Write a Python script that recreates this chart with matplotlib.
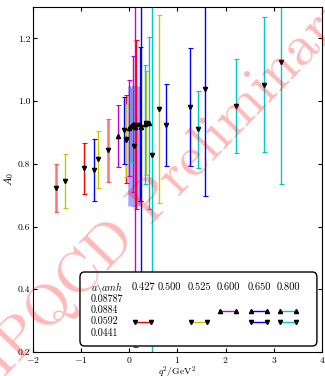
import matplotlib.pyplot as plt
from matplotlib.lines import Line2D
from matplotlib.patches import FancyBboxPatch

plt.rcParams['font.family'] = 'serif'
plt.rcParams['font.serif'] = ['cmr10', 'DejaVu Serif']
plt.rcParams['mathtext.fontset'] = 'cm'
plt.rcParams['axes.formatter.use_mathtext'] = True

# form factor A0 vs q^2, lattice spacing a=0.0592 (down triangles)
red_q2 = [-0.936, -0.07, 0.143]
red_A0 = [0.786, 0.88, 0.925]
red_err = [0.081, 0.14, 0.27]

yellow_q2 = [-1.33, -0.645, -0.077, 0.35, 0.614]
yellow_A0 = [0.746, 0.814, 0.875, 0.929, 0.976]
yellow_err = [0.086, 0.092, 0.117, 0.166, 0.30]

blue_dn_q2 = [-0.728, -0.106, 0.759, 1.264, 1.568]
blue_dn_A0 = [0.78, 0.907, 0.923, 0.981, 1.040]
blue_dn_err = [0.1, 0.107, 0.13, 0.188, 0.342]

cyan_dn_q2 = [0.475, 1.43, 2.218, 2.80, 3.145]
cyan_dn_A0 = [0.828, 0.910, 0.983, 1.052, 1.126]
cyan_dn_err = [0.65, 0.123, 0.15, 0.215, 0.39]

salmon_q2 = [-1.53, -0.45]
salmon_A0 = [0.722, 0.843]
salmon_err = [0.076, 0.10]

# a=0.0884 (up triangles)
magenta_q2 = [-0.23, 0.00, 0.075, 0.116]
magenta_A0 = [0.889, 0.913, 0.926, 0.917]
magenta_err = [0.1, 0.153, 0.217, 0.70]

blue_up_q2 = [0.214, 0.247]
blue_up_A0 = [0.926, 0.917]
blue_up_err = [0.245, 0.6]

cyan_up_q2 = [0.04, 0.33, 0.407]
cyan_up_A0 = [0.921, 0.926, 0.929]
cyan_up_err = [0.116, 0.19, 0.274]

band_q2 = [0.1]
band_A0 = [0.857]
band_err = [0.19]

amh = ['0.427', '0.500', '0.525', '0.600', '0.650', '0.800']
spacings = ['0.08787', '0.0884', '0.0592', '0.0441']

RED = '#ff0000'
YEL = '#c8c800'
BLU = '#0000ff'
CYA = '#00c8c8'
MAG = '#cc00cc'

fig = plt.figure(figsize=(3.25, 3.76), dpi=100)
ax = fig.add_axes([0.1015, 0.0638, 0.889, 0.9176])

def draw(q2, a0, err, col, mk, alpha=1.0, lw=1.0):
    # bars may be translucent, the markers stay solid black
    ax.errorbar(q2, a0, yerr=err, fmt='none', ecolor=col, capsize=1.8,
                elinewidth=lw, capthick=0.8, alpha=alpha, zorder=2)
    ax.plot(q2, a0, ls='none', marker=mk, mfc='k', mec='k', ms=3, zorder=3)

draw(band_q2, band_A0, band_err, BLU, 'v', alpha=0.35, lw=9)
draw(salmon_q2, salmon_A0, salmon_err, RED, 'v', alpha=0.55, lw=1.8)
draw(red_q2, red_A0, red_err, RED, 'v')
draw(yellow_q2, yellow_A0, yellow_err, YEL, 'v')
draw(blue_dn_q2, blue_dn_A0, blue_dn_err, BLU, 'v')
draw(cyan_dn_q2, cyan_dn_A0, cyan_dn_err, CYA, 'v')
draw(magenta_q2, magenta_A0, magenta_err, MAG, '^')
draw(blue_up_q2, blue_up_A0, blue_up_err, BLU, '^')
draw(cyan_up_q2, cyan_up_A0, cyan_up_err, CYA, '^')

ax.set_xlim(-2, 4)
ax.set_ylim(0.2, 1.3)
ax.set_xticks([-2, -1, 0, 1, 2, 3, 4])
ax.set_yticks([0.2, 0.4, 0.6, 0.8, 1.0, 1.2])
ax.set_yticklabels(['0.2', '0.4', '0.6', '0.8', '1.0', '1.2'])
ax.tick_params(direction='in', top=True, right=True, labelsize=7, length=3, pad=2)
ax.set_xlabel(r'$q^2/\mathrm{GeV}^2$', fontsize=7)
ax.xaxis.set_label_coords(0.5, -0.037)
ax.set_ylabel(r'$A_0$', fontsize=8, labelpad=1)

# table-style legend box
def px(x, y):
    return ((x - 33) / 289.0, (352 - y) / 345.0)

x0, y0 = px(80, 346)
x1, y1 = px(317, 272)
box = FancyBboxPatch((x0, y0), x1 - x0, y1 - y0, boxstyle='round,pad=0,rounding_size=0.015',
                     transform=ax.transAxes, fc='white', ec='k', lw=1, zorder=5)
ax.add_patch(box)

tx, ty = px(91, 287)
ax.text(tx, ty, r'$a\backslash amh$', transform=ax.transAxes, fontsize=7.2, va='center', zorder=6)
col_x = [143, 169, 199, 228.5, 259, 288.5]
for cx, lab in zip(col_x, amh):
    tx, ty = px(cx, 287)
    ax.text(tx, ty, lab, transform=ax.transAxes, fontsize=7.5, ha='center', va='center', zorder=6)
row_y = [299, 310.5, 321.5, 333]
for ry, lab in zip(row_y, spacings):
    tx, ty = px(91, ry)
    ax.text(tx, ty, lab, transform=ax.transAxes, fontsize=7.2, va='center', zorder=6)

samples = [(0, 2, RED, 'v'), (2, 2, YEL, 'v'), (3, 1, MAG, '^'), (4, 1, BLU, '^'),
           (4, 2, BLU, 'v'), (5, 1, CYA, '^'), (5, 2, CYA, 'v')]
for ci, ri, col, mk in samples:
    xa, ya = px(col_x[ci] - 8, row_y[ri])
    xb, _ = px(col_x[ci] + 8, row_y[ri])
    ax.add_line(Line2D([xa, xb], [ya, ya], color=col, lw=1.0, transform=ax.transAxes, zorder=6))
    ax.add_line(Line2D([xa, xb], [ya, ya], ls='none', marker=mk, mfc='k', mec='k', ms=3,
                       transform=ax.transAxes, zorder=7))

fig.text(0.5, 0.49, 'HPQCD Preliminary', fontsize=42, color='red', alpha=0.28,
         rotation=46, ha='center', va='center', zorder=10)

fig.savefig('out.png', dpi=100)
